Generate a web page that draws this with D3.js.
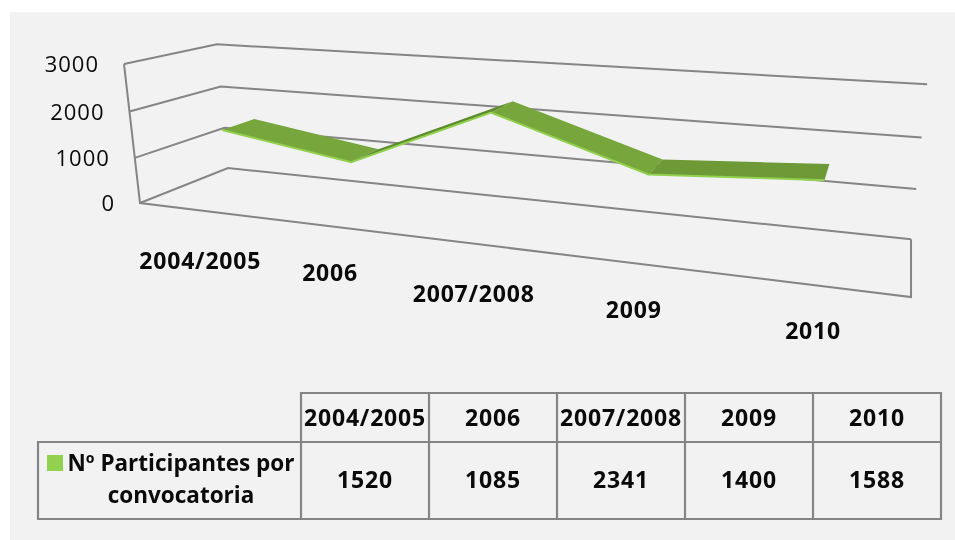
<!DOCTYPE html>
<html>
<head>
<meta charset="utf-8">
<script src="https://cdn.jsdelivr.net/npm/d3@7"></script>
<style>
  html, body { margin: 0; padding: 0; background: #fff; }
  svg { display: block; filter: blur(0.45px); }
  text { font-family: "Open Sans", sans-serif; fill: #0a0a0a; }
</style>
</head>
<body>
<svg id="chart" width="955" height="540"></svg>
<script>
var categories = ["2004/2005", "2006", "2007/2008", "2009", "2010"];
var values = [1520, 1085, 2341, 1400, 1588];
var yTicks = [0, 1000, 2000, 3000];
var seriesName = ["Nº Participantes por", "convocatoria"];

var svg = d3.select("#chart");

svg.append("rect")
	.attr("x", 10).attr("y", 12)
	.attr("width", 945).attr("height", 528)
	.attr("fill", "#f2f2f2");

// perspective: origin is the front left floor corner, then three vanishing points
var origin = [140, 203],
    vpX = [-2345, -100],
    vpDepth = [911, -103],
    vpUp = [547, 3740],
    kX = -0.2368,
    kDepth = 0.1288,
    kUp = -0.0378;

function project(t, v, d) {
	var a = kX * t, b = kDepth * d, c = kUp * v;
	var w = 1 + a + b + c;
	return [
		(origin[0] + a * vpX[0] + b * vpDepth[0] + c * vpUp[0]) / w,
		(origin[1] + a * vpX[1] + b * vpDepth[1] + c * vpUp[1]) / w
	];
}

var xPos = d3.scalePoint().domain(categories).range([0, 1]).padding(0.5),
    yPos = d3.scaleLinear().domain([0, 3000]).range([0, 1]);

var ribbonFront = 0.31,
    ribbonBack = 0.69;

var gridColor = "#858585";
var path = d3.line();

var walls = svg.append("g")
	.attr("fill", "none")
	.attr("stroke", gridColor)
	.attr("stroke-width", 2);

// side wall and back wall lines for each tick
yTicks.forEach(function(tick) {
	var v = yPos(tick);
	walls.append("path").attr("d", path([project(0, v, 0), project(0, v, 1), project(1, v, 1)]));
});
// vertical edge at the left, floor outline
walls.append("path").attr("d", path([project(0, 1, 0), project(0, 0, 0), project(1, 0, 0), project(1, 0, 1)]));

// y labels, next to the left edge
svg.append("g").selectAll("text")
	.data(yTicks)
	.enter().append("text")
	.attr("x", function(d) { return project(0, yPos(d), 0)[0] - 25; })
	.attr("y", function(d) { return project(0, yPos(d), 0)[1] + 8; })
	.attr("text-anchor", "end")
	.attr("font-size", 22)
	.attr("letter-spacing", 1)
	.text(function(d) { return d; });

// ribbon
var segColors = ["#76a63c", "#5e8a2e", "#76a63c", "#6d9a37"];
var ribbon = svg.append("g");
d3.pairs(d3.zip(categories, values)).forEach(function(pair, i) {
	var t0 = xPos(pair[0][0]), v0 = yPos(pair[0][1]),
	    t1 = xPos(pair[1][0]), v1 = yPos(pair[1][1]);
	ribbon.append("path")
		.attr("d", path([
			project(t0, v0, ribbonFront),
			project(t0, v0, ribbonBack),
			project(t1, v1, ribbonBack),
			project(t1, v1, ribbonFront)
		]) + "Z")
		.attr("fill", segColors[i]);
});
// bright front edge of the ribbon
ribbon.append("path")
	.attr("d", path(categories.map(function(c, i) { return project(xPos(c), yPos(values[i]), ribbonFront); })))
	.attr("fill", "none")
	.attr("stroke", "#92d050")
	.attr("stroke-width", 2);

// category labels lying under the floor, staggered a little as in the original
var labelDy = [59, 55, 58, 55, 54];
svg.append("g").selectAll("text")
	.data(categories)
	.enter().append("text")
	.attr("x", function(d) { return project(xPos(d), 0, 0)[0]; })
	.attr("y", function(d, i) { return project(xPos(d), 0, 0)[1] + labelDy[i]; })
	.attr("text-anchor", "middle")
	.attr("font-size", 23)
	.attr("font-weight", 700)
	.attr("letter-spacing", 0.8)
	.text(function(d) { return d; });

// data table
var tableX = d3.scaleBand().domain(categories).range([301, 941]),
    rowTop = 393, rowMid = 442, rowBottom = 519, tableLeft = 38;

var table = svg.append("g")
	.attr("fill", "none")
	.attr("stroke", gridColor)
	.attr("stroke-width", 2.2);

table.append("path").attr("d", path([[301, rowMid], [301, rowTop], [941, rowTop], [941, rowBottom], [tableLeft, rowBottom], [tableLeft, rowMid], [941, rowMid]]));
table.append("line").attr("x1", 301).attr("x2", 301).attr("y1", rowMid).attr("y2", rowBottom);
categories.slice(1).forEach(function(c) {
	table.append("line")
		.attr("x1", tableX(c)).attr("x2", tableX(c))
		.attr("y1", rowTop).attr("y2", rowBottom);
});

var cells = svg.append("g")
	.attr("text-anchor", "middle")
	.attr("font-size", 23)
	.attr("font-weight", 700);

categories.forEach(function(c, i) {
	var cx = tableX(c) + tableX.bandwidth() / 2;
	cells.append("text").attr("x", cx).attr("y", 426).attr("letter-spacing", 0.8).text(c);
	cells.append("text").attr("x", cx).attr("y", 488).attr("letter-spacing", 0.8).text(values[i]);
});

// legend cell
svg.append("rect")
	.attr("x", 47).attr("y", 455)
	.attr("width", 16).attr("height", 16)
	.attr("fill", "#92d050");

cells.append("text").attr("x", 181).attr("y", 471).attr("font-size", 22.5).text(seriesName[0]);
cells.append("text").attr("x", 181).attr("y", 503).attr("font-size", 22.5).text(seriesName[1]);
</script>
</body>
</html>
